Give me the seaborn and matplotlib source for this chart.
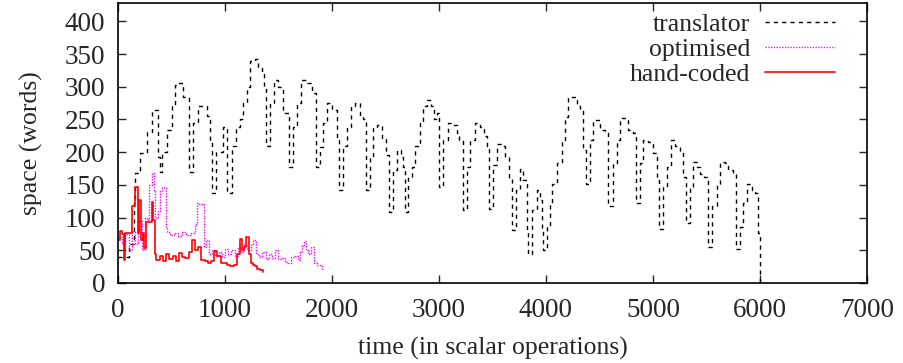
import matplotlib
matplotlib.use("Agg")
import matplotlib.pyplot as plt
import seaborn as sns

# ---- data ----
# translator (black dashed)
tr_time = [0, 100, 150, 160, 206, 268, 315, 346, 377, 390, 408, 455, 502, 533, 564,
           611, 642, 667, 704, 751, 829, 860, 875, 916, 985, 1016, 1062, 1103, 1140,
           1171, 1203, 1234, 1280, 1312, 1343, 1365, 1383, 1421, 1458, 1499, 1545,
           1601, 1633, 1670, 1707, 1763, 1810, 1850, 1888, 1919, 1950, 1997, 2044,
           2069, 2106, 2143, 2174, 2215, 2262, 2293, 2318, 2355, 2386, 2418, 2464,
           2505, 2536, 2573, 2611, 2642, 2667, 2683, 2714, 2745, 2776, 2823, 2854,
           2885, 2922, 2954, 2979, 3004, 3040, 3087, 3134, 3171, 3190, 3221, 3258,
           3290, 3336, 3383, 3420, 3445, 3470, 3508, 3545, 3586, 3617, 3650, 3679,
           3719, 3757, 3788, 3819, 3835, 3866, 3913, 3944, 3959, 3975, 4006, 4037,
           4053, 4099, 4146, 4177, 4209, 4240, 4286, 4318, 4349, 4374, 4411, 4442,
           4473, 4504, 4551, 4582, 4629, 4660, 4691, 4729, 4769, 4816, 4841, 4878,
           4910, 4956, 5003, 5034, 5059, 5096, 5127, 5165, 5205, 5252, 5277, 5308,
           5345, 5377, 5408, 5439, 5476, 5517, 5548, 5595, 5626, 5673, 5704, 5750,
           5775, 5813, 5844, 5875, 5922, 5953, 5978, 6000]
tr_space = [40, 60, 125, 168, 199, 231, 265, 265, 193, 170, 200, 234, 270, 303, 306,
            285, 285, 170, 245, 270, 255, 218, 137, 200, 238, 137, 209, 239, 250,
            275, 300, 339, 342, 330, 320, 300, 209, 275, 310, 300, 260,
            178, 239, 275, 310, 305, 290, 177, 208, 244, 275, 265, 218,
            142, 209, 239, 270, 275, 255, 250, 142, 193, 237, 242, 220,
            195, 109, 172, 203, 192, 178, 109, 162, 178, 210, 244, 270,
            280, 270, 250, 260, 147, 218, 244, 242, 230, 218, 111, 178,
            218, 244, 239, 225, 209, 113, 180, 213, 209, 193, 160, 81,
            142, 175, 157, 81, 45, 112, 142, 127, 81, 50, 86, 122,
            152, 183, 219, 254, 283, 285, 270, 265, 204, 152, 219, 249,
            249, 234, 232, 117, 183, 219, 252, 252, 234, 229, 122, 183,
            219, 216, 198, 157, 83, 147, 178, 219, 209, 198, 162, 91,
            147, 185, 178, 167, 162, 55, 117, 152, 185, 183, 173, 167,
            52, 86, 122, 152, 142, 137, 76, 0]

# optimised (magenta dotted)
opt_time = [0, 40, 70, 100, 130, 160, 190, 220, 250, 270, 290, 315, 335, 350, 370,
            390, 410, 430, 445, 460, 490, 520, 560, 600, 640, 680, 720, 740, 760,
            790, 800, 820, 850, 880, 910, 940, 970, 1000, 1030, 1060, 1090, 1120,
            1150, 1180, 1210, 1240, 1260, 1290, 1320, 1350, 1380, 1410, 1440, 1470,
            1500, 1530, 1560, 1590, 1620, 1650, 1680, 1700, 1720, 1740, 1760, 1780,
            1800, 1830, 1860, 1890, 1910]
opt_space = [70, 60, 75, 50, 80, 60, 95, 50, 100, 96, 150, 168, 140, 100, 110,
             140, 146, 145, 86, 78, 74, 76, 72, 78, 74, 76, 90, 122, 120,
             120, 55, 65, 45, 50, 42, 48, 40, 52, 44, 50, 42, 55,
             48, 60, 50, 58, 65, 45, 40, 48, 36, 44, 38, 50,
             36, 38, 32, 31, 40, 42, 35, 48, 58, 64, 50, 45,
             55, 30, 28, 27, 20]

# hand-coded (red solid)
hc_time = [0, 20, 40, 60, 70, 100, 130, 160, 180, 190, 200, 215, 230, 245, 260, 285,
           315, 330, 345, 360, 390, 420, 450, 480, 510, 540, 570, 600, 630, 660,
           690, 720, 750, 780, 810, 840, 870, 900, 930, 960, 990, 1020, 1050, 1080,
           1110, 1140, 1160, 1180, 1200, 1220, 1240, 1260, 1280, 1300, 1330, 1360]
hc_space = [65, 80, 75, 35, 76, 76, 117, 146, 146, 76, 127, 65, 76, 53, 94, 94,
            124, 96, 45, 35, 42, 34, 44, 36, 42, 33, 46, 40, 38, 48,
            65, 50, 55, 35, 33, 30, 34, 49, 41, 31, 30, 28, 26, 28,
            45, 68, 50, 55, 70, 45, 31, 28, 26, 22, 20, 17]

# ---- style ----
sns.set_style("ticks")
plt.rcParams["font.family"] = ["Liberation Serif", "DejaVu Serif"]
plt.rcParams["font.size"] = 18

fig = plt.figure(figsize=(9.04, 3.63), dpi=100)
ax = fig.add_axes([0.1305, 0.2204, 0.8285, 0.7713])

sns.lineplot(x=tr_time, y=tr_space, ax=ax, color="black", lw=1.0,
             dashes=False, estimator=None, drawstyle="steps-post",
             linestyle=(0, (3, 3)), label="translator")
sns.lineplot(x=opt_time, y=opt_space, ax=ax, color="#ff00ff", lw=1.0,
             dashes=False, estimator=None, drawstyle="steps-post",
             linestyle=(0, (1, 1)), label="optimised")
sns.lineplot(x=hc_time, y=hc_space, ax=ax, color="#ff0000", lw=1.2,
             dashes=False, estimator=None, drawstyle="steps-post",
             label="hand-coded")

ax.set_xlim(0, 7000)
ax.set_ylim(0, 428)
ax.set_xticks(range(0, 7001, 1000))
ax.set_yticks(range(0, 401, 50))
ax.tick_params(axis="both", direction="in", length=6, width=1, top=True,
               right=True, labelsize=19.5)
ax.tick_params(axis="x", pad=11)
ax.tick_params(axis="y", pad=9)
for s in ax.spines.values():
    s.set_visible(True)
    s.set_linewidth(1.2)
    s.set_color("black")

ax.set_xlabel("time (in scalar operations)", fontsize=18.5, labelpad=10)
ax.set_ylabel("space (words)", fontsize=18.5, labelpad=16)

ax.legend(loc="upper right", bbox_to_anchor=(0.957, 0.965), frameon=False,
          markerfirst=False, handlelength=2.7, handletextpad=0.6,
          labelspacing=0.08, borderpad=0, borderaxespad=0, fontsize=18.5)

fig.savefig("out.png", dpi=100)
